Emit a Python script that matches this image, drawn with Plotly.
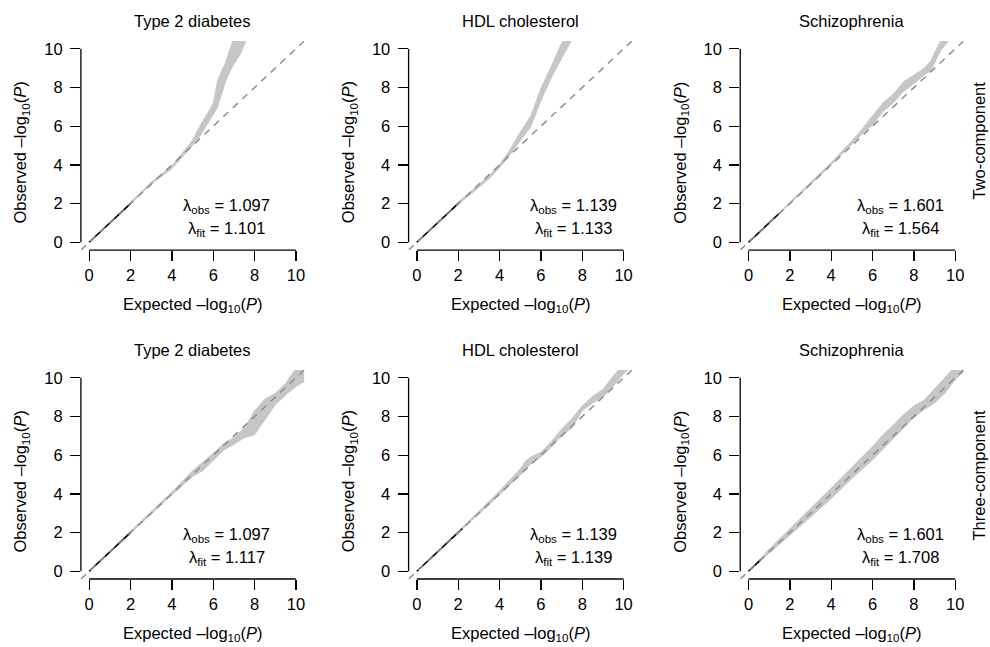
import plotly.graph_objects as go

W, H = 990, 647

# ---------------- data ----------------
titles = ["Type 2 diabetes", "HDL cholesterol", "Schizophrenia"]
row_labels = ["Two-component", "Three-component"]
tick_values = [0, 2, 4, 6, 8, 10]

lambda_obs = ["1.097", "1.139", "1.601", "1.097", "1.139", "1.601"]
lambda_fit = ["1.101", "1.133", "1.564", "1.117", "1.139", "1.708"]

# Two-component model: expected -log10(P) and band limits of observed -log10(P)
t2d_two_x = [0, 1, 2, 3, 4, 4.5, 4.8, 5.0, 5.4, 5.8, 6.0, 6.2, 6.4, 6.6, 6.8, 7.0, 7.3, 7.6]
t2d_two_lo = [0, 0.97, 1.98, 3.0, 3.8, 4.4, 4.75, 5.0, 5.55, 6.3, 6.6, 6.95, 7.6, 8.3, 8.8, 9.2, 9.7, 10.45]
t2d_two_hi = [0, 1.03, 2.08, 3.12, 3.95, 4.6, 5.0, 5.3, 6.1, 6.8, 7.2, 8.3, 8.85, 9.3, 9.95, 10.55, 11.0, 11.5]

hdl_two_x = [0, 1, 2, 2.5, 3, 3.5, 4, 4.5, 5, 5.5, 6, 6.5, 7, 7.5]
hdl_two_lo = [0, 0.98, 1.98, 2.38, 2.83, 3.28, 3.85, 4.5, 5.25, 5.95, 7.3, 8.5, 9.5, 10.45]
hdl_two_hi = [0, 1.03, 2.08, 2.52, 2.98, 3.45, 4.02, 4.78, 5.7, 6.5, 7.95, 9.1, 10.3, 11.0]

scz_two_x = [0, 1, 2, 3, 4, 5, 5.5, 6, 6.5, 7, 7.5, 8, 8.5, 8.8, 9, 9.3, 9.7]
scz_two_lo = [0, 0.98, 1.98, 2.98, 4.0, 5.05, 5.6, 6.05, 6.75, 7.2, 7.8, 8.2, 8.65, 8.85, 9.3, 9.9, 10.45]
scz_two_hi = [0, 1.05, 2.1, 3.1, 4.12, 5.25, 5.85, 6.55, 7.2, 7.65, 8.3, 8.65, 9.0, 9.35, 9.8, 10.45, 11.0]

# Three-component model
t2d_three_x = [0, 1, 2, 3, 4, 5, 5.5, 6, 6.5, 7, 7.5, 8, 8.5, 9, 9.5, 10, 10.4]
t2d_three_lo = [0, 0.97, 1.95, 2.95, 3.95, 4.9, 5.2, 5.75, 6.25, 6.55, 6.9, 7.05, 7.8, 8.6, 9.1, 9.55, 9.8]
t2d_three_hi = [0, 1.04, 2.08, 3.1, 4.1, 5.2, 5.65, 6.1, 6.6, 6.9, 7.4, 8.3, 8.9, 9.2, 9.7, 10.5, 11.0]

hdl_three_x = [0, 1, 2, 3, 4, 5, 5.3, 5.5, 6, 6.5, 7, 7.5, 8, 8.5, 9, 9.5, 10, 10.4]
hdl_three_lo = [0, 0.98, 1.95, 2.95, 3.95, 4.96, 5.3, 5.55, 5.9, 6.4, 7.0, 7.4, 8.3, 8.7, 9.0, 9.55, 10.2, 10.6]
hdl_three_hi = [0, 1.03, 2.05, 3.1, 4.15, 5.3, 5.75, 5.9, 6.15, 6.7, 7.35, 7.9, 8.55, 9.05, 9.4, 10.1, 10.7, 11.1]

scz_three_x = [0, 1, 2, 3, 4, 5, 6, 6.5, 7, 7.5, 8, 8.5, 9, 9.5, 10, 10.4]
scz_three_lo = [0, 0.92, 1.85, 2.8, 3.75, 4.8, 5.75, 6.3, 6.85, 7.4, 7.95, 8.35, 8.7, 9.2, 9.9, 10.3]
scz_three_hi = [0, 1.15, 2.2, 3.25, 4.3, 5.35, 6.45, 7.05, 7.55, 8.1, 8.55, 8.85, 9.4, 10.0, 10.6, 11.0]

# observed points visible in black near the origin (expected = observed)
black_obs_end = [2.0, 2.0, 1.5, 2.0, 2.2, 0.6]

bands = [
    (t2d_two_x, t2d_two_lo, t2d_two_hi),
    (hdl_two_x, hdl_two_lo, hdl_two_hi),
    (scz_two_x, scz_two_lo, scz_two_hi),
    (t2d_three_x, t2d_three_lo, t2d_three_hi),
    (hdl_three_x, hdl_three_lo, hdl_three_hi),
    (scz_three_x, scz_three_lo, scz_three_hi),
]

# ---------------- layout geometry (pixels) ----------------
AX_MIN, AX_MAX = -0.4, 10.4
col_px = [(81, 304.5), (409, 632.5), (741, 964.5)]
row_px = [(40.2, 249.8), (370.2, 579.8)]

FONT = "Liberation Sans, Arial, Helvetica, sans-serif"
FS = 16.5
BAND = "#c6c6c6"
DASH = "#8e8e8e"

fig = go.Figure()
layout = dict(
    width=W, height=H, margin=dict(l=0, r=0, t=0, b=0),
    paper_bgcolor="white", plot_bgcolor="white", showlegend=False,
    font=dict(family=FONT, size=FS, color="black"),
)
shapes = []
annotations = []


def px(x):
    return x / W


def py(y):
    return 1 - y / H


for i in range(6):
    r, c = divmod(i, 3)
    n = "" if i == 0 else str(i + 1)
    xa, ya = "x" + n, "y" + n
    x0p, x1p = col_px[c]
    y0p, y1p = row_px[r]
    axis_common = dict(range=[AX_MIN, AX_MAX], showgrid=False, zeroline=False, showline=False,
                       ticks="outside", ticklen=10, tickwidth=1.3, tickcolor="black",
                       tickvals=tick_values, ticktext=[str(v) for v in tick_values],
                       tickfont=dict(family=FONT, size=FS, color="black"), fixedrange=True)
    layout["xaxis" + n] = dict(domain=[px(x0p), px(x1p)], anchor=ya, **axis_common)
    layout["yaxis" + n] = dict(domain=[py(y1p), py(y0p)], anchor=xa, ticklabelstandoff=4,
                               **axis_common)

    bx, blo, bhi = bands[i]
    fig.add_trace(go.Scatter(x=bx + bx[::-1], y=blo + bhi[::-1], xaxis=xa, yaxis=ya,
                             mode="lines", fill="toself", fillcolor=BAND,
                             line=dict(width=0.8, color=BAND), hoverinfo="skip"))
    e = black_obs_end[i]
    fig.add_trace(go.Scatter(x=[0, e], y=[0, e], xaxis=xa, yaxis=ya, mode="lines",
                             line=dict(color="black", width=1.6), hoverinfo="skip"))
    fig.add_trace(go.Scatter(x=[AX_MIN, AX_MAX], y=[AX_MIN, AX_MAX], xaxis=xa, yaxis=ya,
                             mode="lines", line=dict(color=DASH, width=1.5, dash="7px,6px"),
                             hoverinfo="skip"))

    # R-style axis lines spanning first to last tick
    shapes.append(dict(type="line", xref=xa, yref=ya + " domain", x0=0, x1=10, y0=0, y1=0,
                       line=dict(color="black", width=1.3)))
    shapes.append(dict(type="line", xref=xa + " domain", yref=ya, x0=0, x1=0, y0=0, y1=10,
                       line=dict(color="black", width=1.3)))

    cx = (x0p + x1p) / 2
    # panel title
    annotations.append(dict(text=titles[c], x=px(cx), y=py(20 + 330 * r), xref="paper", yref="paper",
                            showarrow=False, xanchor="center", yanchor="middle",
                            font=dict(family=FONT, size=FS)))
    # x axis title
    annotations.append(dict(text="Expected –log<sub>10</sub>(<i>P</i>)", x=px(cx), y=py(305 + 330 * r),
                            xref="paper", yref="paper", showarrow=False, xanchor="center",
                            yanchor="middle", font=dict(family=FONT, size=FS)))
    # y axis title
    annotations.append(dict(text="Observed –log<sub>10</sub>(<i>P</i>)", x=px(x0p - 60),
                            y=py(152 + 330 * r), xref="paper", yref="paper", showarrow=False,
                            textangle=-90, xanchor="center", yanchor="middle",
                            font=dict(family=FONT, size=FS)))
    # lambda texts
    lam_cx = [227, 574, 901][c]
    annotations.append(dict(text="λ<sub>obs</sub> = " + lambda_obs[i], x=px(lam_cx),
                            y=py(206 + 330 * r), xref="paper", yref="paper", showarrow=False,
                            xanchor="center", yanchor="middle", font=dict(family=FONT, size=FS)))
    annotations.append(dict(text="λ<sub>fit</sub> = " + lambda_fit[i], x=px(lam_cx),
                            y=py(229 + 330 * r), xref="paper", yref="paper", showarrow=False,
                            xanchor="center", yanchor="middle", font=dict(family=FONT, size=FS)))

for r, lab in enumerate(row_labels):
    annotations.append(dict(text=lab, x=px(980), y=py(140 + 336 * r), xref="paper", yref="paper",
                            showarrow=False, textangle=-90, xanchor="center", yanchor="middle",
                            font=dict(family=FONT, size=FS)))

layout["shapes"] = shapes
layout["annotations"] = annotations
fig.update_layout(**layout)
fig.write_html("out.html", config={"displayModeBar": False, "staticPlot": True},
               post_script="document.body.style.margin='0';document.body.style.overflow='hidden';")
